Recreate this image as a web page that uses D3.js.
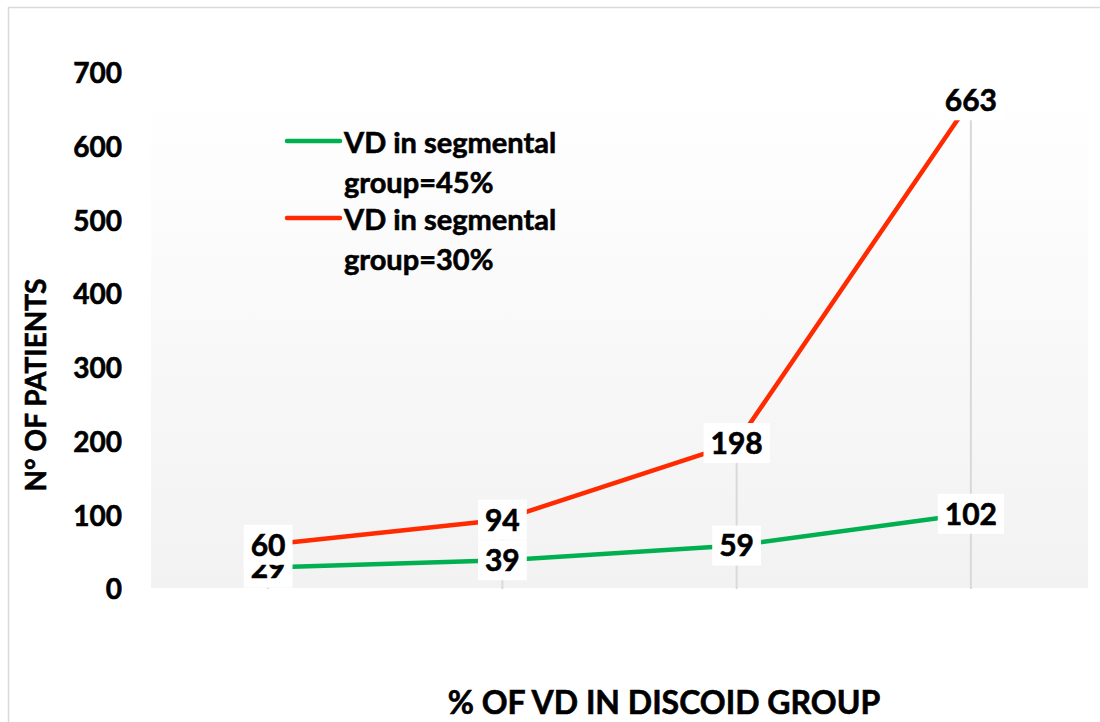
<!DOCTYPE html>
<html><head><meta charset="utf-8">
<script src="https://cdn.jsdelivr.net/npm/d3@7"></script>
<style>body{margin:0;background:#fff}svg{display:block}text{font-family:Lato,"Open Sans",sans-serif;font-weight:bold;fill:#000;stroke:#000;stroke-width:0.6px}</style>
</head><body><svg id="c" width="1100" height="722"></svg>
<script>
const categories = ["1", "2", "3", "4"];
const seriesNames = ["VD in segmental group=45%", "VD in segmental group=30%"];
const green45 = [29, 39, 59, 102];
const red30 = [60, 94, 198, 663];
const yTicks = [0, 100, 200, 300, 400, 500, 600, 700];
const legendLines = [["VD in segmental", "group=45%"], ["VD in segmental", "group=30%"]];
const colors = ["#00b050", "#ff2a00"];

const svg = d3.select("#c");
const W = 1100, H = 722;
svg.append("rect").attr("x", 8.5).attr("y", 7.5).attr("width", W).attr("height", H)
  .attr("fill", "#fff").attr("stroke", "#d9d9d9").attr("stroke-width", 1.5);

const plot = {left: 151, right: 1088, top: 88, bottom: 588};
const x = d3.scalePoint().domain(categories).range([plot.left, plot.right]).padding(0.5);
const y = d3.scaleLinear().domain([0, 700]).range([589, 73]);

const defs = svg.append("defs");
const grad = defs.append("linearGradient").attr("id", "bg").attr("x1", 0).attr("y1", 0).attr("x2", 0).attr("y2", 1);
grad.append("stop").attr("offset", "0%").attr("stop-color", "#ffffff");
grad.append("stop").attr("offset", "100%").attr("stop-color", "#f2f2f2");
svg.append("rect").attr("x", plot.left).attr("y", plot.top).attr("width", plot.right - plot.left)
  .attr("height", plot.bottom - plot.top).attr("fill", "url(#bg)");

const series = [green45, red30];
svg.append("g").selectAll("line").data(categories).join("line")
  .attr("x1", d => x(d)).attr("x2", d => x(d))
  .attr("y1", (d, i) => y(Math.max(green45[i], red30[i]))).attr("y2", y(0))
  .attr("stroke", "#d9d9d9").attr("stroke-width", 2);

const yAxis = d3.axisLeft(y).tickValues(yTicks).tickSize(0).tickPadding(0);
const ya = svg.append("g").attr("transform", "translate(122,0)").call(yAxis);
ya.select(".domain").remove();
ya.selectAll("text").style("font-size", "28px").style("font-family", "Lato, 'Open Sans', sans-serif")
  .style("font-weight", "bold").attr("fill", "#000").attr("dy", "0.35em");

const line = d3.line().x((d, i) => x(categories[i])).y(d => y(d));
series.forEach((s, k) => {
  svg.append("path").datum(s).attr("d", line).attr("fill", "none")
    .attr("stroke", colors[k]).attr("stroke-width", 4.5).attr("stroke-linejoin", "round").attr("stroke-linecap", "round");
});

series.forEach((s, k) => {
  const g = svg.append("g");
  s.forEach((v, i) => {
    const cx = x(categories[i]), cy = y(v);
    const t = g.append("text").attr("x", cx).attr("y", cy).attr("text-anchor", "middle")
      .attr("dy", "0.36em").style("font-size", "30px").text(v);
    const bb = t.node().getBBox();
    g.insert("rect", () => t.node()).attr("x", cx - bb.width / 2 - 7).attr("y", cy - 20)
      .attr("width", bb.width + 14).attr("height", 40).attr("fill", "#fff");
  });
});

const lg = svg.append("g");
legendLines.forEach((lines, k) => {
  const top = 143 + k * 77;
  lg.append("line").attr("x1", 287).attr("x2", 340).attr("y1", top - 2).attr("y2", top - 2)
    .attr("stroke", colors[k]).attr("stroke-width", 4.5).attr("stroke-linecap", "round");
  lines.forEach((ln, j) => {
    lg.append("text").attr("x", 344).attr("y", top + j * 40).attr("dy", "0.35em")
      .style("font-size", "29px").text(ln);
  });
});

svg.append("text").attr("x", 664).attr("y", 703).attr("dy", "0.35em").attr("text-anchor", "middle")
  .style("font-size", "32px").text("% OF VD IN DISCOID GROUP");
svg.append("text").attr("transform", "translate(36,385) rotate(-90)").attr("dy", "0.35em")
  .attr("text-anchor", "middle").style("font-size", "28px")
  .text("N° OF PATIENTS");
</script></body></html>
